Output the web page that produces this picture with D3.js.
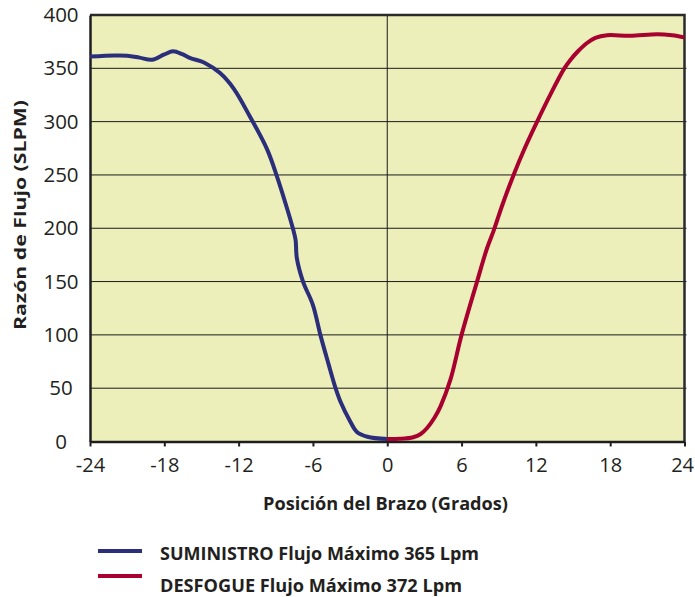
<!DOCTYPE html>
<html><head><meta charset="utf-8">
<script src="https://cdn.jsdelivr.net/npm/d3@7"></script>
<style>body{margin:0;background:#fff}svg{display:block}</style>
</head><body>
<svg id="c" width="695" height="597"></svg>
<script>
const xTicks = [-24,-18,-12,-6,0,6,12,18,24];
const yTicks = [0,50,100,150,200,250,300,350,400];
const suministro = [[-24,361],[-22,362],[-21,361.8],[-20,360],[-19,358],[-18,363],[-17.3,366],[-16.5,363],[-15.9,359.6],[-14.8,355.5],[-13.5,345.5],[-12.4,331],[-11.1,305],[-9.7,274],[-8.9,248.5],[-8.1,219],[-7.6,199],[-7.4,189],[-7.3,172],[-6.8,150],[-6,128],[-5.4,100],[-4.75,73],[-4.2,51],[-3.8,38],[-3.0,19],[-2.45,9],[-1.6,4.5],[0,2.3]];
const desfogue = [[0,2.3],[1,2.5],[2.1,4],[2.7,7],[3.2,12.4],[3.8,22],[4.3,33],[5.1,58],[6.0,100],[7.25,150],[8.05,181],[8.6,198],[9.3,222],[10.2,250],[11.1,275],[12.1,300],[13.2,326],[14.25,349],[14.8,358],[15.4,366],[16.1,373.5],[16.8,378.5],[17.75,381],[19.6,380.5],[21.8,382],[23,381],[24,379]];
const seriesNames = ["SUMINISTRO Flujo Máximo 365 Lpm","DESFOGUE Flujo Máximo 372 Lpm"];
const colors = ["#2b2e7a","#a8002f"];
const xTitle = "Posición del Brazo (Grados)";
const yTitle = "Razón de Flujo (SLPM)";

const svg = d3.select("#c");
const L=90,R=684.5,T=15,B=441.5;
const x = d3.scaleLinear().domain([-24,24]).range([L,R]);
const y = d3.scaleLinear().domain([0,400]).range([B,T]);
const font = "'Open Sans', 'Noto Sans', sans-serif";

svg.append("rect").attr("x",L).attr("y",T).attr("width",R-L).attr("height",B-T).attr("fill","#edefba");

// gridlines
svg.append("g").selectAll("line").data(yTicks.filter(d=>d>0&&d<400)).join("line")
  .attr("x1",L).attr("x2",R+2).attr("y1",d=>y(d)).attr("y2",d=>y(d))
  .attr("stroke","#1a1a1a").attr("stroke-width",1);
svg.append("line").attr("x1",x(0)).attr("x2",x(0)).attr("y1",T).attr("y2",B).attr("stroke","#1a1a1a").attr("stroke-width",1);

// frame top/right
svg.append("path").attr("d",`M${L},${T}H${R}V${B}`).attr("fill","none").attr("stroke","#2a2a2a").attr("stroke-width",2.5);

// x axis
const xa = svg.append("g").attr("transform",`translate(0,${B})`)
  .call(d3.axisBottom(x).tickValues(xTicks).tickFormat(d=>String(d)).tickSize(5).tickSizeOuter(0).tickPadding(11));
xa.select(".domain").attr("stroke","#1e1e1e").attr("stroke-width",2.5);
xa.selectAll(".tick line").attr("stroke","#1e1e1e").attr("stroke-width",2);
xa.selectAll("text").attr("font-family",font).attr("font-size",20).attr("fill","#231f20");
xa.selectAll(".tick").filter(d=>d===24).select("text").attr("text-anchor","end").attr("dx",9);

// y axis
const ya = svg.append("g").attr("transform",`translate(${L},0)`)
  .call(d3.axisLeft(y).tickValues(yTicks).tickFormat(d=>String(d)).tickSize(0).tickPadding(29));
ya.select(".domain").attr("stroke","#1e1e1e").attr("stroke-width",2.5);
ya.selectAll("text").attr("font-family",font).attr("font-size",20.5).attr("fill","#231f20").attr("text-anchor","middle");

// lines
const line = d3.line().x(d=>x(d[0])).y(d=>y(d[1])).curve(d3.curveCatmullRom.alpha(0.5));
[suministro,desfogue].forEach((s,i)=>{
  svg.append("path").datum(s).attr("d",line).attr("fill","none")
    .attr("stroke",colors[i]).attr("stroke-width",4).attr("stroke-linejoin","round").attr("stroke-linecap","butt");
});

function fit(t,w){t.attr("textLength",w).attr("lengthAdjust","spacingAndGlyphs");}
// axis titles
fit(svg.append("text").attr("x",385.5).attr("y",510).attr("text-anchor","middle")
  .attr("font-family",font).attr("font-weight","bold").attr("font-size",17).attr("fill","#231f20").text(xTitle),245);
fit(svg.append("text").attr("transform","translate(26,215) rotate(-90)").attr("text-anchor","middle")
  .attr("font-family",font).attr("font-weight","bold").attr("font-size",16).attr("fill","#231f20").text(yTitle),230);

// legend
const ly=[551,576], lb=[560,592], lw=[319,302];
seriesNames.forEach((n,i)=>{
  svg.append("line").attr("x1",98).attr("x2",142).attr("y1",ly[i]).attr("y2",ly[i]).attr("stroke",colors[i]).attr("stroke-width",4);
  fit(svg.append("text").attr("x",160).attr("y",lb[i]).attr("font-family",font).attr("font-weight","bold")
    .attr("font-size",18).attr("fill","#231f20").text(n),lw[i]);
});
</script>
</body></html>
